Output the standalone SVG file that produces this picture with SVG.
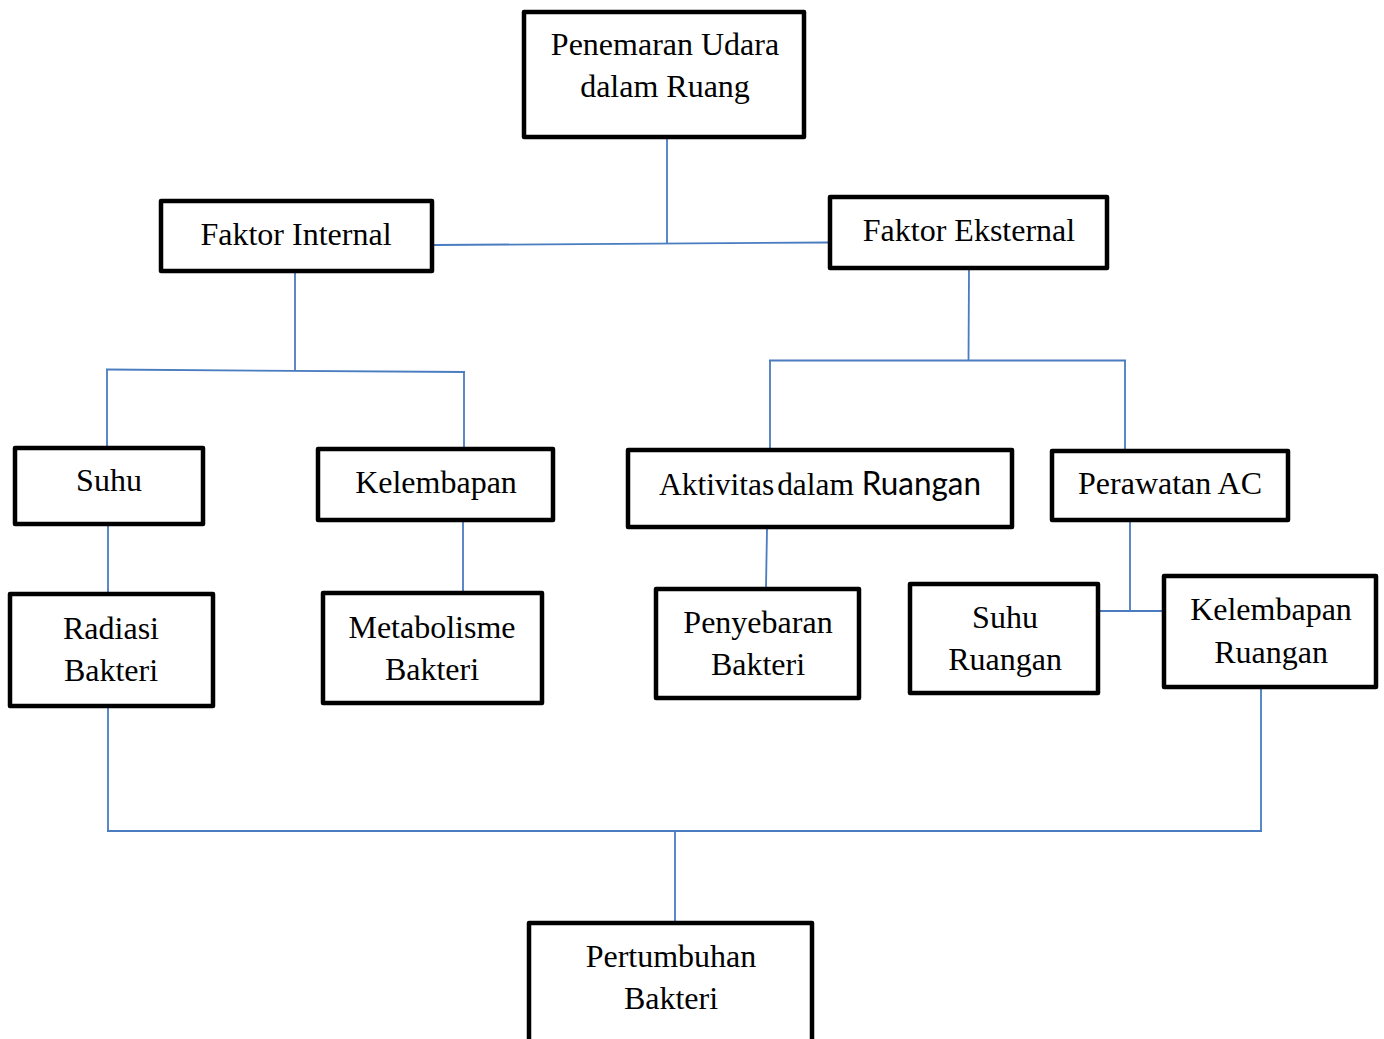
<svg xmlns="http://www.w3.org/2000/svg" width="1384" height="1039" viewBox="0 0 1384 1039">
<style>
.box{fill:#fff;stroke:#000;stroke-width:4.5;stroke-linejoin:round}
.t{font-family:"Liberation Serif","Times New Roman",serif;font-size:32px;fill:#000;text-anchor:middle}
.s{font-family:Lato,"Open Sans",sans-serif}
.c line{stroke:#4a7cc0;stroke-width:1.8;fill:none}
</style>
<rect width="1384" height="1039" fill="#fff"/>
<g class="c" id="connectors">
<line x1="667" y1="139" x2="667" y2="244"/>
<line x1="434" y1="245" x2="828" y2="242.5"/>
<line x1="295" y1="273" x2="295" y2="371"/>
<line x1="106" y1="369.5" x2="465" y2="372"/>
<line x1="107" y1="369.5" x2="107" y2="446"/>
<line x1="464" y1="372" x2="464" y2="447"/>
<line x1="108" y1="526" x2="108" y2="592"/>
<line x1="463" y1="522" x2="463" y2="591"/>
<line x1="969" y1="270" x2="968.5" y2="360"/>
<line x1="769" y1="360.5" x2="1126" y2="360.5"/>
<line x1="770" y1="360.5" x2="770" y2="448"/>
<line x1="1125" y1="360.5" x2="1125" y2="449"/>
<line x1="767" y1="529" x2="766" y2="587"/>
<line x1="1130" y1="522" x2="1130" y2="610"/>
<line x1="1100" y1="611" x2="1162" y2="611"/>
<line x1="108" y1="708" x2="108" y2="831"/>
<line x1="107" y1="831" x2="1262" y2="831"/>
<line x1="1261" y1="689" x2="1261" y2="831"/>
<line x1="675" y1="831" x2="675" y2="921"/>
</g>
<g id="n-penemaran"><rect class="box" x="524" y="12" width="280" height="125"/><text class="t" x="665" y="55">Penemaran Udara</text><text class="t" x="665" y="97">dalam Ruang</text></g>
<g id="n-internal"><rect class="box" x="161" y="201" width="271" height="70"/><text class="t" x="296" y="245">Faktor Internal</text></g>
<g id="n-eksternal"><rect class="box" x="830" y="197" width="277" height="71"/><text class="t" x="969" y="241">Faktor Eksternal</text></g>
<g id="n-suhu"><rect class="box" x="15" y="448" width="188" height="76"/><text class="t" x="109" y="491">Suhu</text></g>
<g id="n-kelembapan"><rect class="box" x="318" y="449" width="235" height="71"/><text class="t" x="436" y="493">Kelembapan</text></g>
<g id="n-aktivitas"><rect class="box" x="628" y="450" width="384" height="77"/><text class="t" x="820" y="495" textLength="322" lengthAdjust="spacingAndGlyphs">Aktivitas<tspan dx="3">dalam </tspan><tspan class="s">Ruangan</tspan></text></g>
<g id="n-perawatan"><rect class="box" x="1052" y="451" width="236" height="69"/><text class="t" x="1170" y="494">Perawatan AC</text></g>
<g id="n-radiasi"><rect class="box" x="10" y="594" width="203" height="112"/><text class="t" x="111" y="639">Radiasi</text><text class="t" x="111" y="681">Bakteri</text></g>
<g id="n-metabolisme"><rect class="box" x="323" y="593" width="219" height="110"/><text class="t" x="432" y="638">Metabolisme</text><text class="t" x="432" y="680">Bakteri</text></g>
<g id="n-penyebaran"><rect class="box" x="656" y="589" width="203" height="109"/><text class="t" x="758" y="633">Penyebaran</text><text class="t" x="758" y="675">Bakteri</text></g>
<g id="n-suhuruangan"><rect class="box" x="910" y="584" width="188" height="109"/><text class="t" x="1005" y="628">Suhu</text><text class="t" x="1005" y="670">Ruangan</text></g>
<g id="n-kelembapanruangan"><rect class="box" x="1164" y="576" width="212" height="111"/><text class="t" x="1271" y="620">Kelembapan</text><text class="t" x="1271" y="663">Ruangan</text></g>
<g id="n-pertumbuhan"><rect class="box" x="529" y="923" width="283" height="130"/><text class="t" x="671" y="967">Pertumbuhan</text><text class="t" x="671" y="1009">Bakteri</text></g>
</svg>
